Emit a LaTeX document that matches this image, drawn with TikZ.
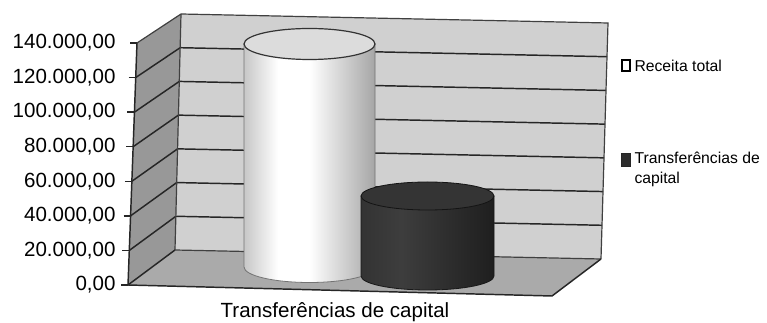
\documentclass[tikz,border=0pt]{standalone}
\usepackage{fontspec}
\setmainfont{Liberation Sans}

\definecolor{wallback}{RGB}{208,208,208}
\definecolor{wallside}{RGB}{152,152,152}
\definecolor{floorgray}{RGB}{170,170,170}
\definecolor{topwhite}{RGB}{220,220,220}
\definecolor{darkbar}{RGB}{45,45,45}
\definecolor{darktop}{RGB}{52,52,52}

\pgfdeclarehorizontalshading{cylwhite}{100bp}{color(0bp)=(black!22); color(25bp)=(black!22); color(38bp)=(white); color(50bp)=(white); color(75bp)=(black!35); color(100bp)=(black!35)}
\pgfdeclarehorizontalshading{cyldark}{100bp}{color(0bp)=(black!80); color(25bp)=(black!80); color(40bp)=(black!76); color(75bp)=(black!88); color(100bp)=(black!88)}

\tikzset{every picture/.style={line width=0.75pt}}
\tikzset{
  gridline/.style={draw=black!85, line width=1.1pt},
  edgeline/.style={draw=black!75, line width=0.9pt},
  ticklabel/.style={anchor=east, inner sep=0pt, font=\fontsize{15.4}{18}\selectfont},
  legendtext/.style={anchor=west, inner sep=0pt, align=left, font=\fontsize{11.8}{15}\selectfont}
}

\begin{document}
\begin{tikzpicture}[x=0.75pt,y=0.75pt,yscale=-1,xscale=1]
%set diagram left start at 0, and has height of 323
\useasboundingbox (0,0) rectangle (767,323);

%Shape: Back wall [id:bw]
\fill [wallback] (175,250) -- (181,14) -- (608,23) -- (601,259) -- cycle ;
%Straight Lines [id:grid] back wall
\draw [gridline] (175.86,216.29) -- (602,225.29) ;
\draw [gridline] (176.71,182.57) -- (603,191.57) ;
\draw [gridline] (177.57,148.86) -- (604,157.86) ;
\draw [gridline] (178.43,115.14) -- (605,124.14) ;
\draw [gridline] (179.29,81.43) -- (606,90.43) ;
\draw [gridline] (180.14,47.71) -- (607,56.71) ;
\draw [edgeline] (181,14) -- (608,23) -- (601,259) ;

%Shape: Side wall [id:sw]
\fill [wallside] (128,285) -- (137,43) -- (181,14) -- (175,250) -- cycle ;
%Straight Lines [id:diag] side wall
\draw [gridline] (129.29,250.43) -- (175.86,216.29) ;
\draw [gridline] (130.57,215.86) -- (176.71,182.57) ;
\draw [gridline] (131.86,181.29) -- (177.57,148.86) ;
\draw [gridline] (133.14,146.71) -- (178.43,115.14) ;
\draw [gridline] (134.43,112.14) -- (179.29,81.43) ;
\draw [gridline] (135.71,77.57) -- (180.14,47.71) ;
\draw [edgeline] (137,43) -- (181,14) ;
\draw [edgeline] (181,14) -- (175,250) ;

%Shape: Floor [id:fl]
\fill [floorgray] (128,285) -- (175,250) -- (601,259) -- (552,296) -- cycle ;
\draw [gridline] (128,285) -- (175,250) ;
\draw [edgeline] (175,250) -- (601,259) ;
\draw [gridline] (601,259) -- (552,296) -- (128,285) -- (137,43) ;

%Straight Lines [id:ticks]
\draw [gridline] (121,285) -- (128,285) ;
\draw [gridline] (122.29,250.43) -- (129.29,250.43) ;
\draw [gridline] (123.57,215.86) -- (130.57,215.86) ;
\draw [gridline] (124.86,181.29) -- (131.86,181.29) ;
\draw [gridline] (126.14,146.71) -- (133.14,146.71) ;
\draw [gridline] (127.43,112.14) -- (134.43,112.14) ;
\draw [gridline] (128.71,77.57) -- (135.71,77.57) ;
\draw [gridline] (130,43) -- (137,43) ;

%Shape: Cylinder [id:receita]
\draw [shading=cylwhite, draw=black!55, line width=0.6pt] (244,44) -- (244,267) arc [start angle=180, end angle=0, x radius=65.5, y radius=15.5] -- (375,44) -- cycle ;
\draw [fill=topwhite, draw=black!80, line width=0.9pt] (309.5,44) ellipse [x radius=65.5, y radius=15.5] ;

%Shape: Cylinder [id:transf]
\draw [shading=cyldark, draw=black!90, line width=0.6pt] (361,196) -- (361,276) arc [start angle=180, end angle=0, x radius=66.5, y radius=14] -- (494,196) -- cycle ;
\draw [fill=darktop, draw=black!92, line width=0.6pt] (427.5,196) ellipse [x radius=66.5, y radius=14] ;

% Text Node
\node [ticklabel] (lab0) at (116,285) {0,00};
\node [ticklabel] (lab1) at (116,250.43) {20.000,00};
\node [ticklabel] (lab2) at (116,215.86) {40.000,00};
\node [ticklabel] (lab3) at (116,181.29) {60.000,00};
\node [ticklabel] (lab4) at (116,146.71) {80.000,00};
\node [ticklabel] (lab5) at (116,112.14) {100.000,00};
\node [ticklabel] (lab6) at (116,77.57) {120.000,00};
\node [ticklabel] (lab7) at (116,43) {140.000,00};
% Text Node
\node [inner sep=0pt, font=\fontsize{15.4}{18}\selectfont] (xlab) at (335,312) {Transferências de capital};

%Shape: Legend keys [id:leg]
\draw [fill=white, draw=black, line width=1.3pt] (622,60) rectangle (630,71) ;
\draw [fill=darkbar, draw=black!85, line width=0.6pt] (621,153) rectangle (630,166) ;
% Text Node
\node [legendtext] (legrec) at (634,65.5) {Receita total};
% Text Node
\node [legendtext] (legtra) at (634,169.5) {Transferências de\\capital};

\end{tikzpicture}
\end{document}
